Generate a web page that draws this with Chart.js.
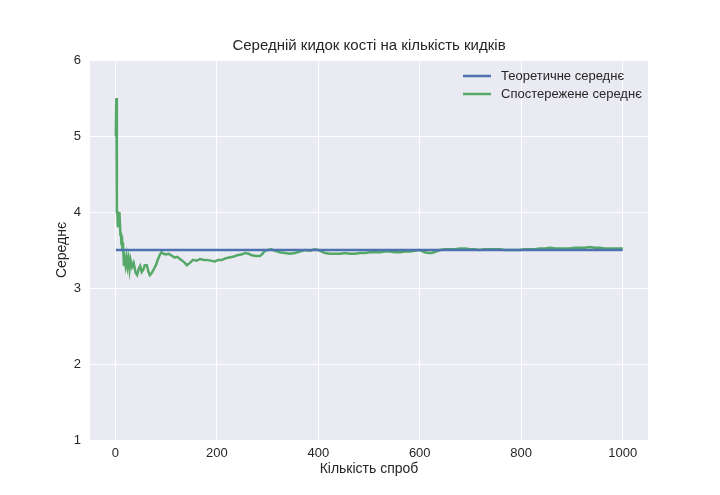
<!DOCTYPE html>
<html>
<head>
<meta charset="utf-8">
<script src="https://cdn.jsdelivr.net/npm/chart.js@4.4.1/dist/chart.umd.min.js"></script>
<style>
  html, body { margin: 0; padding: 0; background: #ffffff; }
  #chart { display: block; }
</style>
</head>
<body>
<canvas id="chart" width="720" height="495"></canvas>
<script>
// number of rolls (x) and running mean
const rollCounts = [1, 2, 3, 4, 5, 6, 7, 8, 9, 10, 11, 12, 13, 14, 15, 16, 17, 18, 20, 22,
  24, 26, 28, 30, 33, 36, 40, 43, 46, 49, 52, 55, 58, 62, 65, 68, 72, 76, 80, 84,
  88, 91, 95, 100, 105, 110, 117, 122, 130, 137, 141, 147, 153, 160, 167, 174, 180, 188, 196, 203,
  210, 217, 224, 232, 240, 248, 256, 263, 269, 277, 285, 290, 295, 301, 307, 315, 324, 334, 344, 354,
  364, 374, 384, 393, 400, 407, 413, 423, 433, 443, 453, 462, 472, 482, 492, 502, 512, 522, 531, 541,
  551, 561, 571, 581, 590, 600, 610, 617, 624, 632, 640, 650, 660, 670, 680, 689, 699, 708, 718, 728,
  738, 748, 758, 768, 778, 787, 797, 807, 817, 827, 837, 847, 857, 867, 876, 886, 896, 906, 916, 925,
  935, 945, 955, 965, 975, 984, 993, 1000];
const observedMeans = [5.0, 5.5, 4.0, 4.0, 3.8, 4.0, 3.86, 4.0, 4.0, 3.7, 3.73, 3.58, 3.69, 3.5, 3.6, 3.44, 3.29, 3.39, 3.3, 3.41,
  3.29, 3.38, 3.25, 3.37, 3.28, 3.33, 3.2, 3.17, 3.25, 3.29, 3.21, 3.24, 3.3, 3.3, 3.22, 3.17, 3.2, 3.25, 3.3, 3.38,
  3.44, 3.47, 3.45, 3.44, 3.45, 3.43, 3.40, 3.41, 3.37, 3.33, 3.30, 3.33, 3.37, 3.36, 3.38, 3.37, 3.37, 3.36, 3.35, 3.37,
  3.37, 3.39, 3.40, 3.41, 3.43, 3.44, 3.46, 3.45, 3.43, 3.42, 3.42, 3.45, 3.49, 3.50, 3.51, 3.49, 3.47, 3.46, 3.45, 3.46,
  3.48, 3.50, 3.49, 3.51, 3.50, 3.48, 3.46, 3.45, 3.45, 3.45, 3.46, 3.45, 3.45, 3.46, 3.46, 3.47, 3.47, 3.47, 3.48, 3.48,
  3.47, 3.47, 3.48, 3.48, 3.49, 3.50, 3.47, 3.46, 3.46, 3.48, 3.50, 3.51, 3.51, 3.51, 3.52, 3.52, 3.51, 3.51, 3.50, 3.51,
  3.51, 3.51, 3.51, 3.50, 3.50, 3.50, 3.50, 3.51, 3.51, 3.51, 3.52, 3.52, 3.53, 3.52, 3.52, 3.52, 3.52, 3.53, 3.53, 3.53,
  3.54, 3.53, 3.53, 3.52, 3.52, 3.52, 3.52, 3.52];
const theoryX = [1, 1000];
const theoryMean = [3.5, 3.5];

const xTicks = [0, 200, 400, 600, 800, 1000];

const chartTitle = 'Середній кидок кості на кількість кидків';
const textColor = '#262626';
const fontFamily = '"Liberation Sans", Arial, sans-serif';

// grey plot background like seaborn darkgrid, title centred over the plot
const plotBackground = {
  id: 'plotBackground',
  beforeDraw(chart) {
    const { ctx, chartArea: a } = chart;
    ctx.save();
    ctx.fillStyle = '#EAEAF2';
    ctx.fillRect(a.left, a.top, a.right - a.left, a.bottom - a.top);
    ctx.fillStyle = textColor;
    ctx.font = '15px ' + fontFamily;
    ctx.textAlign = 'center';
    ctx.textBaseline = 'middle';
    ctx.fillText(chartTitle, (a.left + a.right) / 2, 46);
    ctx.restore();
  }
};

// legend stacked in the upper right corner of the plot, no frame
const cornerLegend = {
  id: 'cornerLegend',
  afterDraw(chart) {
    const { ctx } = chart;
    ctx.save();
    ctx.font = '13px ' + fontFamily;
    ctx.textBaseline = 'middle';
    chart.data.datasets.forEach((ds, i) => {
      const y = 76 + i * 18;
      ctx.strokeStyle = ds.borderColor;
      ctx.lineWidth = 2.5;
      ctx.beginPath();
      ctx.moveTo(463, y);
      ctx.lineTo(491, y);
      ctx.stroke();
      ctx.fillStyle = textColor;
      ctx.fillText(ds.label, 501, y);
    });
    ctx.restore();
  }
};

new Chart(document.getElementById('chart'), {
  type: 'line',
  data: {
    datasets: [
      {
        label: 'Теоретичне середнє',
        data: theoryX.map((x, i) => ({ x: x, y: theoryMean[i] })),
        borderColor: '#4C72B0',
        borderWidth: 2.5,
        pointRadius: 0,
        tension: 0
      },
      {
        label: 'Спостережене середнє',
        data: rollCounts.map((x, i) => ({ x: x, y: observedMeans[i] })),
        borderColor: '#55A868',
        borderWidth: 2.5,
        pointRadius: 0,
        tension: 0
      }
    ]
  },
  options: {
    responsive: false,
    animation: false,
    layout: { padding: { left: 0, right: 72, top: 60, bottom: 0 } },
    plugins: {
      legend: { display: false },
      tooltip: { enabled: false }
    },
    scales: {
      x: {
        type: 'linear',
        min: -49.95,
        max: 1049.95,
        afterFit(scale) { scale.height = 55; },
        afterBuildTicks(scale) { scale.ticks = xTicks.map(v => ({ value: v })); },
        border: { display: false },
        grid: { color: '#ffffff', lineWidth: 1, drawTicks: false },
        ticks: {
          color: textColor,
          padding: 6,
          font: { family: fontFamily, size: 13 },
          callback: v => String(v)
        },
        title: {
          display: true,
          text: 'Кількість спроб',
          color: textColor,
          font: { family: fontFamily, size: 14 },
          padding: { top: 0, bottom: 17.6 }
        }
      },
      y: {
        min: 1,
        max: 6,
        afterFit(scale) { scale.width = 90; },
        border: { display: false },
        grid: { color: '#ffffff', lineWidth: 1, drawTicks: false },
        ticks: { stepSize: 1, color: textColor, padding: 9, font: { family: fontFamily, size: 13 } },
        title: {
          display: true,
          text: 'Середнє',
          color: textColor,
          font: { family: fontFamily, size: 14 },
          padding: { top: 53.6, bottom: 0 }
        }
      }
    }
  },
  plugins: [plotBackground, cornerLegend]
});
</script>
</body>
</html>
